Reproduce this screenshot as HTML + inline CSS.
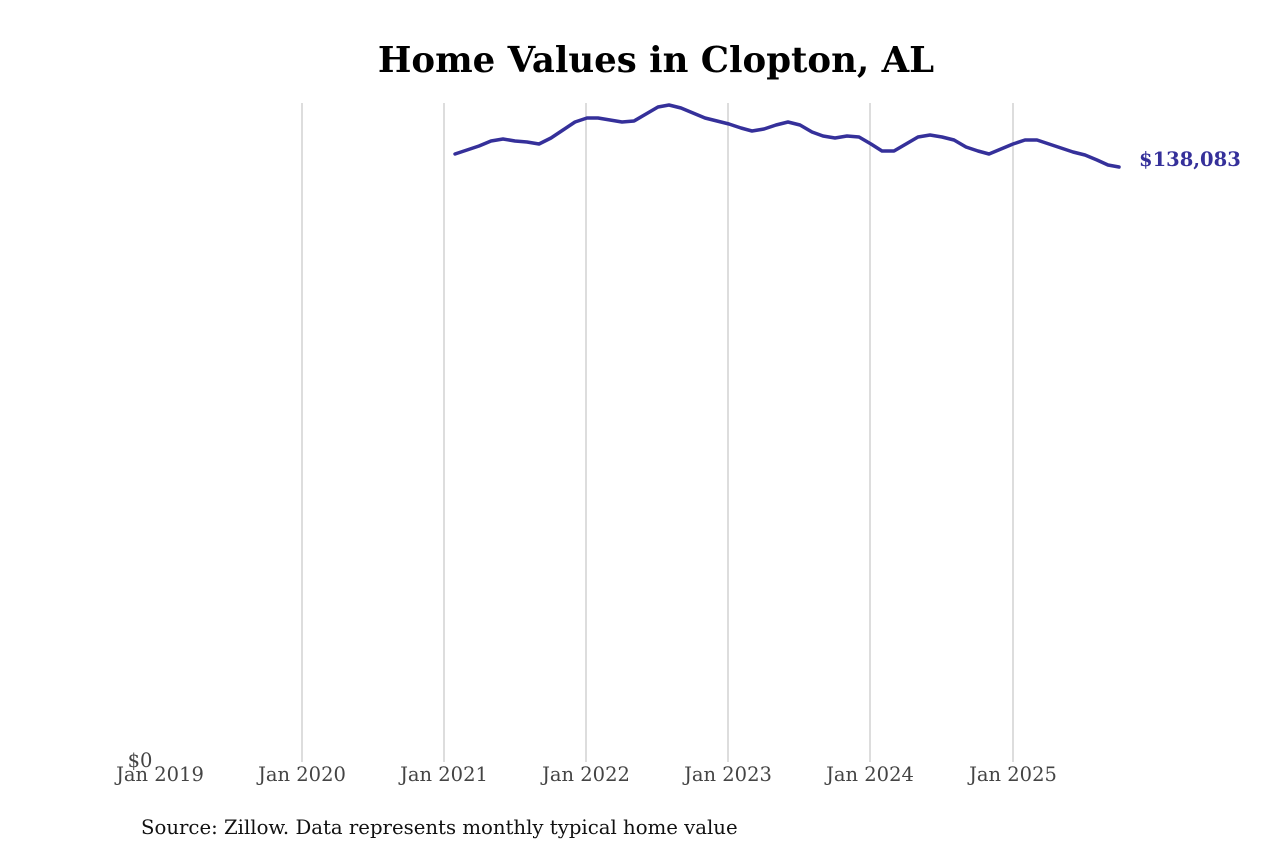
<!DOCTYPE html>
<html><head><meta charset="utf-8"><style>
body{margin:0;background:#fff;width:1280px;height:853px;overflow:hidden}
</style></head><body>
<svg width="1280" height="853" xmlns="http://www.w3.org/2000/svg">
<rect width="1280" height="853" fill="#fff"/>
<text x="656" y="72" text-anchor="middle" font-family="'DejaVu Serif','Liberation Serif',serif" font-weight="bold" font-size="35.5" fill="#000">Home Values in Clopton, AL</text>
<g stroke="#bbb" stroke-width="1">
<line x1="302" y1="103" x2="302" y2="762"/>
<line x1="444" y1="103" x2="444" y2="762"/>
<line x1="586" y1="103" x2="586" y2="762"/>
<line x1="728" y1="103" x2="728" y2="762"/>
<line x1="870" y1="103" x2="870" y2="762"/>
<line x1="1013" y1="103" x2="1013" y2="762"/>
</g>
<g font-family="'DejaVu Serif','Liberation Serif',serif" font-size="19.5" fill="#444" text-anchor="middle">
<text x="140" y="767">$0</text>
<text x="160" y="781">Jan 2019</text>
<text x="302" y="781">Jan 2020</text>
<text x="444" y="781">Jan 2021</text>
<text x="586" y="781">Jan 2022</text>
<text x="728" y="781">Jan 2023</text>
<text x="870" y="781">Jan 2024</text>
<text x="1013" y="781">Jan 2025</text>
</g>
<polyline fill="none" stroke="#35309a" stroke-width="3.5" stroke-linejoin="round" stroke-linecap="round" points="455,154 467,150 479,146 491,141 503,139 515,141 527,142 539,144 551,138 563,130 575,122 587,118 598,118 610,120 622,122 634,121 646,114 658,107 669,105 681,108 693,113 705,118 717,121 729,124 741,128 752,131 764,129 776,125 788,122 800,125 812,132 823,136 835,138 847,136 859,137 871,144 882,151 894,151 906,144 918,137 930,135 942,137 954,140 966,147 978,151 989,154 1001,149 1013,144 1025,140 1037,140 1049,144 1061,148 1073,152 1085,155 1097,160 1108,165 1119,167"/>
<text x="1139" y="166" font-family="'DejaVu Serif','Liberation Serif',serif" font-weight="bold" font-size="19.5" fill="#35309a">$138,083</text>
<text x="141" y="834" font-family="'DejaVu Serif','Liberation Serif',serif" font-size="19.7" fill="#111">Source: Zillow. Data represents monthly typical home value</text>
</svg>
</body></html>
